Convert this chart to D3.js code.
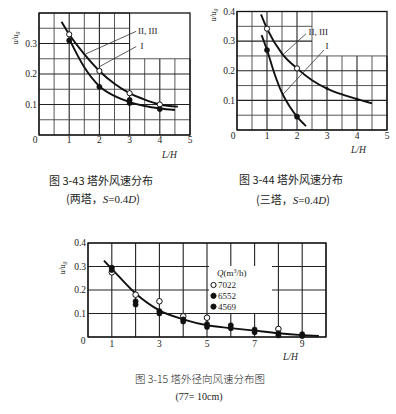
<!DOCTYPE html>
<html>
<head>
<meta charset="utf-8">
<title></title>
<script src="https://d3js.org/d3.v7.min.js"></script>
<style>
body{margin:0;background:#fff}
text{fill:#222}
.num{font-family:"Liberation Serif","DejaVu Serif",serif;font-size:9.5px}
.cjk{font-family:"Noto Sans CJK SC",sans-serif;font-size:11px}
</style>
</head>
<body>
<div id="chart"></div>
<script>
// fig 3-43 (two towers)
var lhTicks5 = [0,1,2,3,4,5];
var uTicks3 = [0.1,0.2,0.3];
var uTicks4 = [0.1,0.2,0.3,0.4];
var a_upX = [0.75,1,1.5,2,2.5,3,3.5,4,4.6];
var a_upY = [0.371,0.33,0.265,0.21,0.168,0.137,0.116,0.1,0.093];
var a_openX = [1,2,3,4];
var a_openY = [0.33,0.21,0.137,0.1];
var a_loX = [1,1.5,2,2.5,3,3.5,4,4.5];
var a_loY = [0.315,0.222,0.16,0.128,0.108,0.095,0.087,0.082];
var a_fillX = [1,2,3,3,4];
var a_fillY = [0.31,0.158,0.115,0.105,0.085];

// fig 3-44 (three towers)
var b_upX = [0.8,1,1.5,2,2.5,3,3.5,4,4.5];
var b_upY = [0.39,0.342,0.258,0.208,0.168,0.14,0.12,0.104,0.09];
var b_openX = [1,2];
var b_openY = [0.342,0.208];
var b_dotX = [3,4];
var b_dotY = [0.14,0.104];
var b_loX = [0.82,1,1.25,1.5,1.75,2,2.3];
var b_loY = [0.32,0.27,0.19,0.125,0.08,0.045,0.013];
var b_fillX = [1,2];
var b_fillY = [0.27,0.045];

// fig 3-15 (radial)
var c_xTicks = [1,3,5,7,9];
var c_curveX = [0.67,1,2,3,4,5,6,7,8,9,9.7];
var c_curveY = [0.325,0.29,0.185,0.113,0.075,0.05,0.038,0.027,0.016,0.008,0.004];
var q_names = ['7022','6552','4569'];
var q7022X = [1,2,3,4,5,8];
var q7022Y = [0.275,0.18,0.152,0.088,0.082,0.034];
var q6552X = [1,2,3,4,5,6,7,8,9];
var q6552Y = [0.295,0.152,0.11,0.075,0.055,0.05,0.032,0.017,0.012];
var q4569X = [1,2,3,4,5,6,7,8,9];
var q4569Y = [0.285,0.138,0.1,0.066,0.043,0.037,0.02,0.007,0.004];

var svg = d3.select('#chart').append('svg')
	.attr('width',396).attr('height',414);
svg.append('rect').attr('width',396).attr('height',414).attr('fill','#fff');

function zip(xs,ys){ return xs.map(function(x,i){ return [x,ys[i]]; }); }
function isMajor(v,k){ return Math.abs(v*k-Math.round(v*k))<1e-6; }

function panel(o){
	var x = d3.scaleLinear().domain(o.xDom).range(o.xRange);
	var y = d3.scaleLinear().domain([0,0.4]).range(o.yRange);
	var g = svg.append('g');
	var gx = d3.range(o.xDom[0], o.xDom[1]+1e-9, o.xStep);
	var gy = d3.range(0, 0.4+1e-9, o.yStep);
	var cx = o.cut ? o.cut[0] : 99, cy = o.cut ? o.cut[1] : 99;
	g.selectAll('.vl').data(gx).enter().append('line')
		.attr('x1',function(d){return x(d);}).attr('x2',function(d){return x(d);})
		.attr('y1',y(0)).attr('y2',function(d){ return d>cx+1e-9 ? y(cy) : y(0.4); })
		.attr('stroke',function(d){ return isMajor(d,1) ? '#222' : '#444'; })
		.attr('stroke-width',function(d){ return isMajor(d,1) ? 1.1 : 0.9; });
	g.selectAll('.hl').data(gy).enter().append('line')
		.attr('y1',function(d){return y(d);}).attr('y2',function(d){return y(d);})
		.attr('x1',x(o.xDom[0])).attr('x2',function(d){ return d>cy+1e-9 ? x(cx) : x(o.xDom[1]); })
		.attr('stroke',function(d){ return isMajor(d,10) ? '#222' : '#444'; })
		.attr('stroke-width',function(d){ return isMajor(d,10) ? 1.1 : 0.9; });
	g.append('rect')
		.attr('x',x(o.xDom[0])).attr('y',y(0.4))
		.attr('width',x(o.xDom[1])-x(o.xDom[0])).attr('height',y(0)-y(0.4))
		.attr('fill','none').attr('stroke','#111').attr('stroke-width',1.3);
	// tick labels
	g.selectAll('.xt').data(o.xTicks).enter().append('text')
		.attr('class','num').attr('text-anchor','middle')
		.attr('x',function(d){ return x(d) + (d===0 ? -4 : 0); })
		.attr('y',y(0)+o.xLabDy).text(function(d){return d;});
	g.selectAll('.yt').data(o.yTicks).enter().append('text')
		.attr('class','num').attr('text-anchor','end')
		.attr('x',x(0)-2).attr('y',function(d){return y(d)+3.3;})
		.text(function(d){return d.toFixed(1);});
	if(o.zeroY){
		g.append('text').attr('class','num').attr('text-anchor','middle')
			.attr('x',x(0)-5).attr('y',y(0)+o.zeroY).text('0');
	}
	// axis titles
	var yl = g.append('text').attr('class','num')
		.attr('transform','translate('+o.yLab[0]+','+o.yLab[1]+') rotate(-90)')
		.attr('text-anchor','middle').style('font-size','7.5px').style('font-style','italic');
	yl.append('tspan').text('u/u');
	yl.append('tspan').attr('dy',2).style('font-size','5.5px').text('0');
	g.append('text').attr('class','num').style('font-style','italic')
		.attr('x',o.xLab[0]).attr('y',o.xLab[1]).text('L/H');
	return {x:x,y:y,g:g};
}

var line = function(p){
	return d3.line().x(function(d){return p.x(d[0]);}).y(function(d){return p.y(d[1]);})
		.curve(d3.curveMonotoneX);
};

function curve(p,pts){
	p.g.append('path').datum(pts).attr('d',line(p))
		.attr('fill','none').attr('stroke','#111').attr('stroke-width',1.9);
}
function marks(p,pts,open,r){
	p.g.selectAll(null).data(pts).enter().append('circle')
		.attr('cx',function(d){return p.x(d[0]);}).attr('cy',function(d){return p.y(d[1]);})
		.attr('r',r||2.6)
		.attr('fill',open ? '#fff' : '#111')
		.attr('stroke','#111').attr('stroke-width',open?1:0.5);
}
function leader(p,from,to,lab,at){
	p.g.append('line')
		.attr('x1',p.x(from[0])).attr('y1',p.y(from[1]))
		.attr('x2',p.x(to[0])).attr('y2',p.y(to[1]))
		.attr('stroke','#333').attr('stroke-width',0.8);
	p.g.append('text').attr('class','num').style('font-size','9px')
		.attr('x',p.x(at[0])).attr('y',p.y(at[1])+3).text(lab);
}
function caption(cx,y1,l1,y2,pre){
	svg.append('text').attr('class','cjk').attr('text-anchor','middle')
		.attr('x',cx).attr('y',y1).text(l1);
	var t2 = svg.append('text').attr('class','cjk').attr('text-anchor','middle')
		.attr('x',cx+2).attr('y',y2);
	t2.append('tspan').text(pre);
	t2.append('tspan').attr('class','num').style('font-style','italic').style('font-size','11px').text('S');
	t2.append('tspan').attr('class','num').style('font-size','11px').text('=0.4');
	t2.append('tspan').attr('class','num').style('font-style','italic').style('font-size','11px').text('D');
	t2.append('tspan').text(')');
}

// panel A
var pa = panel({xDom:[0,5], xRange:[39,190], yRange:[135,13], xStep:0.5, yStep:0.05,
	cut:[3,0.25], xTicks:lhTicks5, yTicks:uTicks3, xLabDy:8, yLab:[18,38], xLab:[162,158]});
curve(pa, zip(a_upX,a_upY));
curve(pa, zip(a_loX,a_loY));
marks(pa, zip(a_openX,a_openY), true);
marks(pa, zip(a_fillX,a_fillY), false);
leader(pa,[1.55,0.266],[3.22,0.34],'II, III',[3.28,0.34]);
leader(pa,[2.0,0.224],[3.22,0.29],'I',[3.36,0.292]);
caption(101,185,'图 3-43  塔外风速分布',203,'(两塔，');

// panel B
var pb = panel({xDom:[0,5], xRange:[237,387], yRange:[130,11.5], xStep:0.5, yStep:0.05,
	cut:[2.5,0.25], xTicks:lhTicks5, yTicks:uTicks4, xLabDy:9, yLab:[216,15], xLab:[351,153]});
curve(pb, zip(b_upX,b_upY));
curve(pb, zip(b_loX,b_loY));
marks(pb, zip(b_openX,b_openY), true);
marks(pb, zip(b_dotX,b_dotY), false, 1.3);
marks(pb, zip(b_fillX,b_fillY), false);
leader(pb,[1.54,0.255],[2.3,0.325],'II, III',[2.38,0.33]);
leader(pb,[1.53,0.12],[2.9,0.27],'I',[2.95,0.282]);
caption(291,184,'图 3-44  塔外风速分布',204,'(三塔，');

// panel C
var pc = panel({xDom:[0,10], xRange:[88,326], yRange:[337,243], xStep:1, yStep:0.1,
	xTicks:c_xTicks, yTicks:uTicks4, xLabDy:10, zeroY:7, yLab:[65,268], xLab:[283,360]});
// legend box hides grid
pc.g.append('rect').attr('x',209).attr('y',266).attr('width',63).attr('height',47).attr('fill','#fff');
curve(pc, zip(c_curveX,c_curveY));
marks(pc, zip(q7022X,q7022Y), true, 2.8);
marks(pc, zip(q6552X,q6552Y), false, 2.6);
marks(pc, zip(q4569X,q4569Y), false, 2.6);
var lt = pc.g.append('text').attr('class','num').attr('x',217).attr('y',276).style('font-size','9px');
lt.append('tspan').style('font-style','italic').text('Q');
lt.append('tspan').text('(m');
lt.append('tspan').attr('dy',-3).style('font-size','6px').text('3');
lt.append('tspan').attr('dy',3).text('/h)');
var leg = pc.g.selectAll('.lg').data(q_names).enter().append('g')
	.attr('transform',function(d,i){ return 'translate(213.5,'+(285+i*10.8)+')'; });
leg.append('circle').attr('r',2.6)
	.attr('fill',function(d,i){ return i===0 ? '#fff' : '#111'; })
	.attr('stroke','#111').attr('stroke-width',1);
leg.append('text').attr('class','num').style('font-size','9px').attr('x',4.5).attr('y',3.2)
	.text(function(d){return d;});

svg.append('text').attr('class','cjk').attr('text-anchor','middle').style('font-size','10.5px')
	.style('font-weight','300')
	.attr('x',200).attr('y',383).text('图 3-15 塔外径向风速分布图');
svg.append('text').attr('class','num').attr('text-anchor','middle').style('font-size','10px')
	.attr('x',199).attr('y',400).text('(77= 10cm)');
</script>
</body>
</html>
